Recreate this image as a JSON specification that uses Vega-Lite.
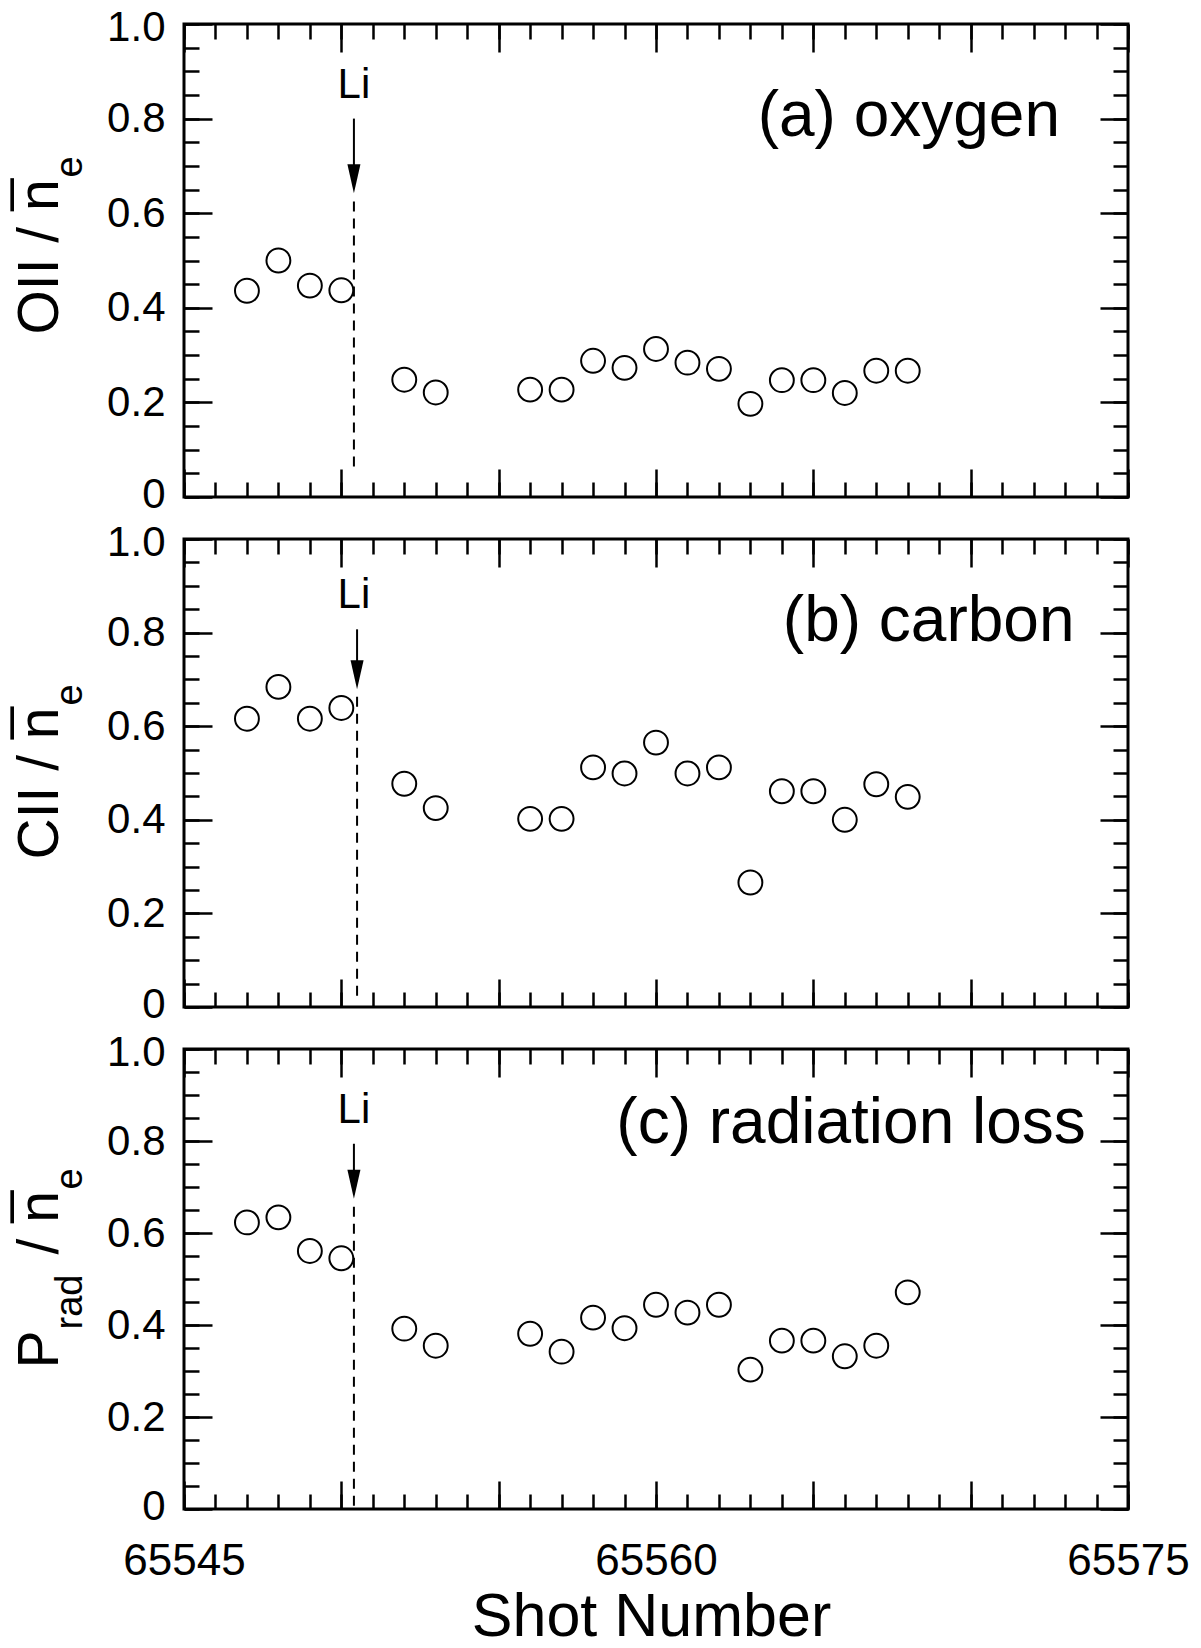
{
  "$schema": "https://vega.github.io/schema/vega-lite/v6.json",
  "background": "white",
  "padding": {"left": 9, "top": 4, "right": 10, "bottom": 2},
  "spacing": 42,
  "bounds": "flush",
  "datasets": {
    "oxygen": [
      {"shot": 65547, "value": 0.436}, {"shot": 65548, "value": 0.500}, {"shot": 65549, "value": 0.447},
      {"shot": 65550, "value": 0.437}, {"shot": 65552, "value": 0.248}, {"shot": 65553, "value": 0.221},
      {"shot": 65556, "value": 0.227}, {"shot": 65557, "value": 0.227}, {"shot": 65558, "value": 0.288},
      {"shot": 65559, "value": 0.273}, {"shot": 65560, "value": 0.313}, {"shot": 65561, "value": 0.284},
      {"shot": 65562, "value": 0.271}, {"shot": 65563, "value": 0.197}, {"shot": 65564, "value": 0.247},
      {"shot": 65565, "value": 0.247}, {"shot": 65566, "value": 0.220}, {"shot": 65567, "value": 0.267},
      {"shot": 65568, "value": 0.267}
    ],
    "carbon": [
      {"shot": 65547, "value": 0.616}, {"shot": 65548, "value": 0.684}, {"shot": 65549, "value": 0.616},
      {"shot": 65550, "value": 0.639}, {"shot": 65552, "value": 0.477}, {"shot": 65553, "value": 0.425},
      {"shot": 65556, "value": 0.402}, {"shot": 65557, "value": 0.402}, {"shot": 65558, "value": 0.512},
      {"shot": 65559, "value": 0.499}, {"shot": 65560, "value": 0.565}, {"shot": 65561, "value": 0.499},
      {"shot": 65562, "value": 0.512}, {"shot": 65563, "value": 0.266}, {"shot": 65564, "value": 0.461},
      {"shot": 65565, "value": 0.461}, {"shot": 65566, "value": 0.400}, {"shot": 65567, "value": 0.476},
      {"shot": 65568, "value": 0.449}
    ],
    "radiation": [
      {"shot": 65547, "value": 0.623}, {"shot": 65548, "value": 0.634}, {"shot": 65549, "value": 0.561},
      {"shot": 65550, "value": 0.545}, {"shot": 65552, "value": 0.392}, {"shot": 65553, "value": 0.355},
      {"shot": 65556, "value": 0.381}, {"shot": 65557, "value": 0.342}, {"shot": 65558, "value": 0.416},
      {"shot": 65559, "value": 0.393}, {"shot": 65560, "value": 0.444}, {"shot": 65561, "value": 0.427},
      {"shot": 65562, "value": 0.444}, {"shot": 65563, "value": 0.303}, {"shot": 65564, "value": 0.366},
      {"shot": 65565, "value": 0.366}, {"shot": 65566, "value": 0.332}, {"shot": 65567, "value": 0.355},
      {"shot": 65568, "value": 0.471}
    ]
  },
  "vconcat": [
    {
      "width": 944, "height": 473,
      "resolve": {"axis": {"x": "independent", "y": "independent"}},
      "layer": [
        {
          "data": {"name": "oxygen"},
          "mark": {"type": "point", "shape": "circle", "filled": false, "stroke": "black", "strokeWidth": 2, "size": 570, "opacity": 1},
          "encoding": {
            "x": {"field": "shot", "type": "quantitative", "scale": {"domain": [65545, 65575], "nice": false, "zero": false},
              "axis": {"orient": "bottom", "values": [65545,65546,65547,65548,65549,65550,65551,65552,65553,65554,65555,65556,65557,65558,65559,65560,65561,65562,65563,65564,65565,65566,65567,65568,65569,65570,65571,65572,65573,65574,65575], "tickSize": -15, "labels": false, "title": null}},
            "y": {"field": "value", "type": "quantitative", "scale": {"domain": [0, 1], "nice": false, "zero": false},
              "axis": {"orient": "left", "values": [0,0.05,0.1,0.15,0.2,0.25,0.3,0.35,0.4,0.45,0.5,0.55,0.6,0.65,0.7,0.75,0.8,0.85,0.9,0.95,1], "tickSize": -15, "labels": false,
                "title": "OII / n\u0305", "titleFontSize": 57, "titleX": -127, "titleY": 310, "titleAngle": 270, "titleAlign": "left", "titleBaseline": "alphabetic"}}
          }
        },
        {
          "data": {"values": [{}]},
          "mark": {"type": "rule", "strokeDash": [10, 7], "strokeWidth": 2, "color": "black"},
          "encoding": {
            "x": {"datum": 65550.4, "type": "quantitative",
              "axis": {"orient": "bottom", "values": [65545,65550,65555,65560,65565,65570,65575], "tickSize": -28, "labels": false, "title": null}},
            "y": {"datum": 0.625, "type": "quantitative",
              "axis": {"orient": "left", "values": [0,0.2,0.4,0.6,0.8,1], "tickSize": -28, "labels": true, "labelExpr": "datum.value == 0 ? '0' : format(datum.value, '.1f')", "labelFontSize": 42, "labelPadding": 47, "labelAlign": "right", "labelBaseline": "middle", "labelFlush": false, "labelOverlap": false,
                "labelOffset": {"condition": [{"test": "datum.value == 0", "value": -3}, {"test": "datum.value == 1", "value": 3}], "value": 0}, "title": null}},
            "y2": {"datum": 0.05}
          }
        },
        {
          "data": {"values": [{}]},
          "mark": {"type": "rule", "strokeWidth": 2, "color": "black"},
          "encoding": {
            "x": {"datum": 65550.4, "type": "quantitative",
              "axis": {"orient": "top", "values": [65545,65546,65547,65548,65549,65550,65551,65552,65553,65554,65555,65556,65557,65558,65559,65560,65561,65562,65563,65564,65565,65566,65567,65568,65569,65570,65571,65572,65573,65574,65575], "tickSize": -15, "labels": false, "title": null}},
            "y": {"datum": 0.8, "type": "quantitative",
              "axis": {"orient": "right", "values": [0,0.05,0.1,0.15,0.2,0.25,0.3,0.35,0.4,0.45,0.5,0.55,0.6,0.65,0.7,0.75,0.8,0.85,0.9,0.95,1], "tickSize": -15, "labels": false, "title": null}},
            "y2": {"datum": 0.7}
          }
        },
        {
          "data": {"values": [{}]},
          "mark": {"type": "point", "shape": "M-0.45,-1L0.45,-1L0,1Z", "filled": true, "color": "black", "size": 841, "opacity": 1, "strokeWidth": 0},
          "encoding": {
            "x": {"datum": 65550.4, "type": "quantitative",
              "axis": {"orient": "top", "values": [65545,65550,65555,65560,65565,65570,65575], "tickSize": -28, "labels": false, "title": null}},
            "y": {"datum": 0.673, "type": "quantitative",
              "axis": {"orient": "right", "values": [0,0.2,0.4,0.6,0.8,1], "tickSize": -28, "labels": false, "title": null}}
          }
        },
        {
          "data": {"values": [{}]},
          "mark": {"type": "text", "text": "Li", "fontSize": 42, "align": "center", "baseline": "alphabetic", "color": "black"},
          "encoding": {
            "x": {"datum": 65550.4, "type": "quantitative", "axis": null},
            "y": {"datum": 0.844, "type": "quantitative",
              "axis": {"orient": "left", "ticks": false, "labels": false, "title": "e", "titleFontSize": 38, "titleX": -103, "titleY": 153, "titleAngle": 270, "titleAlign": "left", "titleBaseline": "alphabetic"}}
          }
        },
        {
          "data": {"values": [{}]},
          "mark": {"type": "text", "text": "(a) oxygen", "fontSize": 64, "align": "right", "baseline": "alphabetic", "color": "black"},
          "encoding": {
            "x": {"datum": 65572.84, "type": "quantitative", "axis": null},
            "y": {"datum": 0.763, "type": "quantitative", "axis": null}
          }
        }
      ]
    },
    {
      "width": 944, "height": 468,
      "resolve": {"axis": {"x": "independent", "y": "independent"}},
      "layer": [
        {
          "data": {"name": "carbon"},
          "mark": {"type": "point", "shape": "circle", "filled": false, "stroke": "black", "strokeWidth": 2, "size": 570, "opacity": 1},
          "encoding": {
            "x": {"field": "shot", "type": "quantitative", "scale": {"domain": [65545, 65575], "nice": false, "zero": false},
              "axis": {"orient": "bottom", "values": [65545,65546,65547,65548,65549,65550,65551,65552,65553,65554,65555,65556,65557,65558,65559,65560,65561,65562,65563,65564,65565,65566,65567,65568,65569,65570,65571,65572,65573,65574,65575], "tickSize": -15, "labels": false, "title": null}},
            "y": {"field": "value", "type": "quantitative", "scale": {"domain": [0, 1], "nice": false, "zero": false},
              "axis": {"orient": "left", "values": [0,0.05,0.1,0.15,0.2,0.25,0.3,0.35,0.4,0.45,0.5,0.55,0.6,0.65,0.7,0.75,0.8,0.85,0.9,0.95,1], "tickSize": -15, "labels": false,
                "title": "CII / n\u0305", "titleFontSize": 57, "titleX": -127, "titleY": 320, "titleAngle": 270, "titleAlign": "left", "titleBaseline": "alphabetic"}}
          }
        },
        {
          "data": {"values": [{}]},
          "mark": {"type": "rule", "strokeDash": [10, 7], "strokeWidth": 2, "color": "black"},
          "encoding": {
            "x": {"datum": 65550.5, "type": "quantitative",
              "axis": {"orient": "bottom", "values": [65545,65550,65555,65560,65565,65570,65575], "tickSize": -28, "labels": false, "title": null}},
            "y": {"datum": 0.663, "type": "quantitative",
              "axis": {"orient": "left", "values": [0,0.2,0.4,0.6,0.8,1], "tickSize": -28, "labels": true, "labelExpr": "datum.value == 0 ? '0' : format(datum.value, '.1f')", "labelFontSize": 42, "labelPadding": 47, "labelAlign": "right", "labelBaseline": "middle", "labelFlush": false, "labelOverlap": false,
                "labelOffset": {"condition": [{"test": "datum.value == 0", "value": -3}, {"test": "datum.value == 1", "value": 3}], "value": 0}, "title": null}},
            "y2": {"datum": 0.016}
          }
        },
        {
          "data": {"values": [{}]},
          "mark": {"type": "rule", "strokeWidth": 2, "color": "black"},
          "encoding": {
            "x": {"datum": 65550.5, "type": "quantitative",
              "axis": {"orient": "top", "values": [65545,65546,65547,65548,65549,65550,65551,65552,65553,65554,65555,65556,65557,65558,65559,65560,65561,65562,65563,65564,65565,65566,65567,65568,65569,65570,65571,65572,65573,65574,65575], "tickSize": -15, "labels": false, "title": null}},
            "y": {"datum": 0.807, "type": "quantitative",
              "axis": {"orient": "right", "values": [0,0.05,0.1,0.15,0.2,0.25,0.3,0.35,0.4,0.45,0.5,0.55,0.6,0.65,0.7,0.75,0.8,0.85,0.9,0.95,1], "tickSize": -15, "labels": false, "title": null}},
            "y2": {"datum": 0.735}
          }
        },
        {
          "data": {"values": [{}]},
          "mark": {"type": "point", "shape": "M-0.45,-1L0.45,-1L0,1Z", "filled": true, "color": "black", "size": 841, "opacity": 1, "strokeWidth": 0},
          "encoding": {
            "x": {"datum": 65550.5, "type": "quantitative",
              "axis": {"orient": "top", "values": [65545,65550,65555,65560,65565,65570,65575], "tickSize": -28, "labels": false, "title": null}},
            "y": {"datum": 0.71, "type": "quantitative",
              "axis": {"orient": "right", "values": [0,0.2,0.4,0.6,0.8,1], "tickSize": -28, "labels": false, "title": null}}
          }
        },
        {
          "data": {"values": [{}]},
          "mark": {"type": "text", "text": "Li", "fontSize": 42, "align": "center", "baseline": "alphabetic", "color": "black"},
          "encoding": {
            "x": {"datum": 65550.4, "type": "quantitative", "axis": null},
            "y": {"datum": 0.852, "type": "quantitative",
              "axis": {"orient": "left", "ticks": false, "labels": false, "title": "e", "titleFontSize": 38, "titleX": -103, "titleY": 166, "titleAngle": 270, "titleAlign": "left", "titleBaseline": "alphabetic"}}
          }
        },
        {
          "data": {"values": [{}]},
          "mark": {"type": "text", "text": "(b) carbon", "fontSize": 64, "align": "right", "baseline": "alphabetic", "color": "black"},
          "encoding": {
            "x": {"datum": 65573.3, "type": "quantitative", "axis": null},
            "y": {"datum": 0.782, "type": "quantitative", "axis": null}
          }
        }
      ]
    },
    {
      "width": 944, "height": 460,
      "resolve": {"axis": {"x": "independent", "y": "independent"}},
      "layer": [
        {
          "data": {"name": "radiation"},
          "mark": {"type": "point", "shape": "circle", "filled": false, "stroke": "black", "strokeWidth": 2, "size": 570, "opacity": 1},
          "encoding": {
            "x": {"field": "shot", "type": "quantitative", "scale": {"domain": [65545, 65575], "nice": false, "zero": false},
              "axis": {"orient": "bottom", "values": [65545,65546,65547,65548,65549,65550,65551,65552,65553,65554,65555,65556,65557,65558,65559,65560,65561,65562,65563,65564,65565,65566,65567,65568,65569,65570,65571,65572,65573,65574,65575], "tickSize": -15, "labels": false, "title": null}},
            "y": {"field": "value", "type": "quantitative", "scale": {"domain": [0, 1], "nice": false, "zero": false},
              "axis": {"orient": "left", "values": [0,0.05,0.1,0.15,0.2,0.25,0.3,0.35,0.4,0.45,0.5,0.55,0.6,0.65,0.7,0.75,0.8,0.85,0.9,0.95,1], "tickSize": -15, "labels": false,
                "title": "P", "titleFontSize": 57, "titleX": -127, "titleY": 319, "titleAngle": 270, "titleAlign": "left", "titleBaseline": "alphabetic"}}
          }
        },
        {
          "data": {"values": [{}]},
          "mark": {"type": "rule", "strokeDash": [10, 7], "strokeWidth": 2, "color": "black"},
          "encoding": {
            "x": {"datum": 65550.4, "type": "quantitative",
              "axis": {"orient": "bottom", "values": [65545,65550,65555,65560,65565,65570,65575], "tickSize": -28, "labels": true,
                "labelExpr": "(datum.value - 65545) % 15 == 0 ? '' + datum.value : ''", "labelFontSize": 44, "labelPadding": 58, "labelAlign": "center", "labelBaseline": "top", "labelFlush": false, "labelOverlap": false,
                "title": "Shot Number", "titleFontSize": 61, "titleX": 467, "titleY": 126, "titleAngle": 0, "titleAlign": "center", "titleBaseline": "alphabetic"}},
            "y": {"datum": 0.657, "type": "quantitative",
              "axis": {"orient": "left", "values": [0,0.2,0.4,0.6,0.8,1], "tickSize": -28, "labels": true, "labelExpr": "datum.value == 0 ? '0' : format(datum.value, '.1f')", "labelFontSize": 42, "labelPadding": 47, "labelAlign": "right", "labelBaseline": "middle", "labelFlush": false, "labelOverlap": false,
                "labelOffset": {"condition": [{"test": "datum.value == 0", "value": -3}, {"test": "datum.value == 1", "value": 3}], "value": 0},
                "title": "rad", "titleFontSize": 38, "titleX": -103, "titleY": 280, "titleAngle": 270, "titleAlign": "left", "titleBaseline": "alphabetic"}},
            "y2": {"datum": 0.007}
          }
        },
        {
          "data": {"values": [{}]},
          "mark": {"type": "rule", "strokeWidth": 2, "color": "black"},
          "encoding": {
            "x": {"datum": 65550.4, "type": "quantitative",
              "axis": {"orient": "top", "values": [65545,65546,65547,65548,65549,65550,65551,65552,65553,65554,65555,65556,65557,65558,65559,65560,65561,65562,65563,65564,65565,65566,65567,65568,65569,65570,65571,65572,65573,65574,65575], "tickSize": -15, "labels": false, "title": null}},
            "y": {"datum": 0.794, "type": "quantitative",
              "axis": {"orient": "right", "values": [0,0.05,0.1,0.15,0.2,0.25,0.3,0.35,0.4,0.45,0.5,0.55,0.6,0.65,0.7,0.75,0.8,0.85,0.9,0.95,1], "tickSize": -15, "labels": false, "title": null}},
            "y2": {"datum": 0.732}
          }
        },
        {
          "data": {"values": [{}]},
          "mark": {"type": "point", "shape": "M-0.45,-1L0.45,-1L0,1Z", "filled": true, "color": "black", "size": 841, "opacity": 1, "strokeWidth": 0},
          "encoding": {
            "x": {"datum": 65550.4, "type": "quantitative",
              "axis": {"orient": "top", "values": [65545,65550,65555,65560,65565,65570,65575], "tickSize": -28, "labels": false, "title": null}},
            "y": {"datum": 0.706, "type": "quantitative",
              "axis": {"orient": "right", "values": [0,0.2,0.4,0.6,0.8,1], "tickSize": -28, "labels": false, "title": null}}
          }
        },
        {
          "data": {"values": [{}]},
          "mark": {"type": "text", "text": "Li", "fontSize": 42, "align": "center", "baseline": "alphabetic", "color": "black"},
          "encoding": {
            "x": {"datum": 65550.4, "type": "quantitative", "axis": null},
            "y": {"datum": 0.84, "type": "quantitative",
              "axis": {"orient": "left", "ticks": false, "labels": false, "title": "/ n\u0305", "titleFontSize": 57, "titleX": -127, "titleY": 205, "titleAngle": 270, "titleAlign": "left", "titleBaseline": "alphabetic"}}
          }
        },
        {
          "data": {"values": [{}]},
          "mark": {"type": "text", "text": "(c) radiation loss", "fontSize": 64, "align": "right", "baseline": "alphabetic", "color": "black"},
          "encoding": {
            "x": {"datum": 65573.66, "type": "quantitative", "axis": null},
            "y": {"datum": 0.795, "type": "quantitative",
              "axis": {"orient": "left", "ticks": false, "labels": false, "title": "e", "titleFontSize": 38, "titleX": -103, "titleY": 140, "titleAngle": 270, "titleAlign": "left", "titleBaseline": "alphabetic"}}
          }
        }
      ]
    }
  ],
  "config": {
    "font": "Liberation Sans",
    "view": {"stroke": "black", "strokeWidth": 3},
    "axis": {"labelFont": "Liberation Sans", "titleFont": "Liberation Sans", "labelColor": "black", "titleColor": "black", "tickColor": "black", "tickWidth": 2.5, "domain": false, "grid": false, "titleFontWeight": "normal"},
    "text": {"font": "Liberation Sans"}
  }
}
